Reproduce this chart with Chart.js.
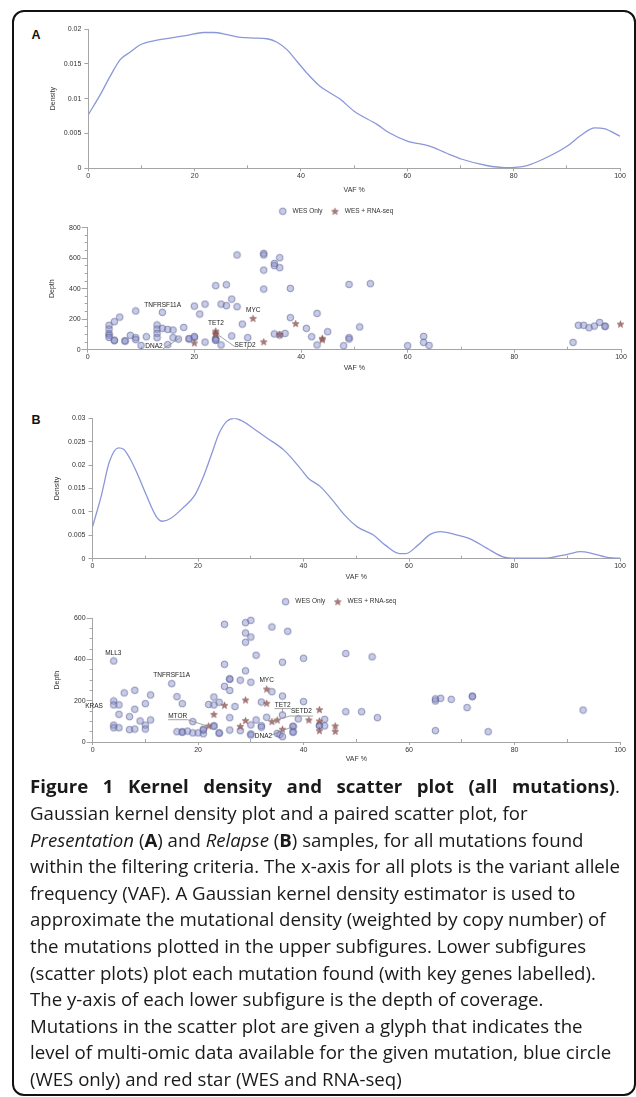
<!DOCTYPE html>
<html>
<head>
<meta charset="utf-8">
<script src="https://cdn.jsdelivr.net/npm/chart.js@4.4.0/dist/chart.umd.min.js"></script>
<style>
  html, body { margin: 0; padding: 0; background: #fff; }
  body { width: 636px; height: 1097px; position: relative; overflow: hidden; font-family: "Liberation Sans", Arial, sans-serif; }
  .frame { position: absolute; left: 12px; top: 10px; width: 624px; height: 1086px; box-sizing: border-box; border: 2px solid #111; border-radius: 12px; }
  canvas { position: absolute; left: 0; }
  .panel { position: absolute; left: 31.5px; font: bold 12.5px "Liberation Sans", Arial, sans-serif; line-height: 12.5px; color: #111; }
  #caption { position: absolute; left: 30.4px; top: 773.4px; font-family: "Open Sans", sans-serif; font-size: 18px; color: #1a1a1a; }
  #caption .ln { height: 26.6px; line-height: 26.6px; white-space: nowrap; transform-origin: 0 50%; }
</style>
</head>
<body>
<div class="frame"></div>
<div class="panel" style="top:28.6px">A</div>
<div class="panel" style="top:414.3px">B</div>
<canvas id="densA" width="636" height="180" style="top:20px"></canvas>
<canvas id="scatA" width="636" height="180" style="top:195px"></canvas>
<canvas id="densB" width="636" height="190" style="top:400px"></canvas>
<canvas id="scatB" width="636" height="180" style="top:585px"></canvas>

<div id="caption">
  <div class="ln"><span><b>Figure 1 Kernel density and scatter plot (all mutations)</b>.</span></div>
  <div class="ln"><span>Gaussian kernel density plot and a paired scatter plot, for</span></div>
  <div class="ln"><span><i>Presentation</i> (<b>A</b>) and <i>Relapse</i> (<b>B</b>) samples, for all mutations found</span></div>
  <div class="ln"><span>within the filtering criteria. The x-axis for all plots is the variant allele</span></div>
  <div class="ln"><span>frequency (VAF). A Gaussian kernel density estimator is used to</span></div>
  <div class="ln"><span>approximate the mutational density (weighted by copy number) of</span></div>
  <div class="ln"><span>the mutations plotted in the upper subfigures. Lower subfigures</span></div>
  <div class="ln"><span>(scatter plots) plot each mutation found (with key genes labelled).</span></div>
  <div class="ln"><span>The y-axis of each lower subfigure is the depth of coverage.</span></div>
  <div class="ln"><span>Mutations in the scatter plot are given a glyph that indicates the</span></div>
  <div class="ln"><span>level of multi-omic data available for the given mutation, blue circle</span></div>
  <div class="ln"><span>(WES only) and red star (WES and RNA-seq)</span></div>
</div>

<script>
// --- density curves, presentation (A) and relapse (B) ---
var densA_vaf = [0, 2.2, 4.1, 6, 7.9, 9.7, 12.3, 15.4, 18.6, 21.7, 23.6, 26.1, 28.6, 31.1, 33.6, 35.5, 37.4, 39.3, 41.2, 43.4, 45.5, 47.4, 50, 54.3, 56.6, 60, 64.2, 67.3, 70.3, 74.9, 78.5, 82.5, 85.5, 90.1, 92.4, 95.3, 97, 100];
var densA_val = [0.0077, 0.0105, 0.0132, 0.0156, 0.0167, 0.0177, 0.0183, 0.0187, 0.0191, 0.0195, 0.0195, 0.0192, 0.0188, 0.0187, 0.0186, 0.0181, 0.0170, 0.0153, 0.0136, 0.0119, 0.0108, 0.0099, 0.0082, 0.0063, 0.0051, 0.0039, 0.0032, 0.0022, 0.0013, 0.0004, 0.0001, 0.0004, 0.0013, 0.0032, 0.0046, 0.0058, 0.0057, 0.0046];

var densB_vaf = [0, 1.7, 3.2, 4.9, 5.9, 7.1, 8.6, 10.2, 12.1, 13.2, 14.8, 17.1, 19.4, 20.9, 22.5, 24, 25.5, 26.9, 28.6, 30.9, 33.2, 36.3, 39.4, 40.9, 43.2, 45.5, 47.8, 50.2, 53.2, 55.5, 58.2, 59.4, 61.7, 64, 65.9, 68.6, 71.7, 74.8, 77.8, 80.2, 85.5, 90.2, 92.5, 94.8, 97.9, 100];
var densB_val = [0.0068, 0.0136, 0.0207, 0.0237, 0.0234, 0.0214, 0.0179, 0.0136, 0.009, 0.008, 0.0086, 0.0108, 0.0136, 0.0172, 0.0221, 0.0268, 0.0294, 0.03, 0.0293, 0.0275, 0.0257, 0.0232, 0.0193, 0.0172, 0.0154, 0.0125, 0.0093, 0.0068, 0.0051, 0.0029, 0.0011, 0.0011, 0.0029, 0.0052, 0.0058, 0.0052, 0.0042, 0.0022, 0.0004, 0.0001, 0.0001, 0.001, 0.0015, 0.0011, 0.0002, 0.0001];

// --- scatter points [VAF %, depth] ---
var wesOnlyA = [
  [4,160],[4,135],[4,105],[4,95],[4,80],[5,184],[5,59],[5,63],[6,214],[7,59],[7,56],[8,94],
  [9,254],[9,79],[9,66],[10,28],[11,85],[13,162],[13,135],[13,107],[13,79],[14,245],[14,140],
  [15,133],[15,33],[16,129],[16,79],[17,70],[18,146],[19,70],[19,73],[20,286],[20,79],[20,87],
  [21,234],[22,299],[22,50],[24,420],[24,74],[24,61],[24,66],[25,299],[25,31],[26,426],[26,289],
  [27,332],[27,90],[28,621],[28,282],[29,168],[30,79],[33,632],[33,621],[33,522],[33,398],
  [35,566],[35,551],[35,103],[36,603],[36,538],[36,96],[37,107],[38,402],[38,210],[41,140],
  [42,85],[43,238],[43,31],[45,118],[48,26],[49,428],[49,79],[49,70],[51,149],[53,433],
  [60,26],[63,87],[63,48],[64,28],[91,48],[92,160],[93,160],[94,144],[95,155],[96,179],[97,155],[97,152]
];
var wesRnaA = [[20,44],[24,122],[24,110],[24,100],[31,205],[33,52],[36,100],[39,171],[44,75],[44,65],[99.9,168]];

var wesOnlyB = [
  [4,393],[4,199],[4,180],[5,180],[4,82],[4,69],[5,69],[5,134],[6,238],[7,123],[7,60],
  [8,251],[8,159],[8,63],[9,102],[10,186],[10,82],[10,63],[11,228],[11,107],[15,283],[16,220],
  [17,186],[19,99],[16,50],[17,50],[17,47],[18,53],[19,44],[20,44],[21,40],[21,62],[21,58],
  [23,79],[23,76],[22,182],[23,218],[23,180],[24,193],[25,571],[25,377],[25,270],[26,304],[26,307],
  [26,250],[26,118],[24,42],[24,45],[26,58],[27,172],[28,300],[28,55],[29,579],[29,529],[29,484],
  [29,345],[30,590],[30,509],[30,290],[30,83],[30,39],[30,34],[31,421],[31,107],[32,194],[32,79],
  [32,72],[33,120],[34,244],[34,558],[35,42],[35.5,36],[36,387],[36,223],[36,131],[36,26],[37,537],
  [38,74],[38,77],[38,50],[38,47],[39,112],[40,406],[40,196],[43,81],[43,78],[44,110],[44,78],
  [48,429],[53,413],[48,147],[51,147],[54,118],[65,199],[65,209],[66,212],[68,207],[72,223],[72,220],
  [71,167],[65,55],[75,50],[93,155]
];
var wesRnaB = [[22,78],[23,134],[25,178],[28,76],[29,204],[29,104],[33,257],[33,188],[34,99],[35,107],
  [36,62],[41,107],[43,157],[43,102],[43,55],[46,78],[46,52]];

// --- key gene labels (text centre in VAF/depth units) and leader lines ---
var genesA = ['TNFRSF11A', 'MYC', 'TET2', 'SETD2', 'DNA2'];
var genesA_vaf = [14.06, 31.05, 24.06, 29.5, 12.43];
var genesA_depth = [293, 260, 173, 31, 21];
var leadersA = [
  [[14.1, 5], [17.3, 77]],
  [[24.5, 96], [27.6, 20]]
];

var genesB = ['MLL3', 'KRAS', 'TNFRSF11A', 'MTOR', 'MYC', 'TET2', 'SETD2', 'DNA2'];
var genesB_vaf = [3.92, 0.27, 15.0, 16.13, 33.0, 36.04, 39.6, 32.4];
var genesB_depth = [431, 176, 322, 125, 298, 180, 147, 26];
var leadersB = [
  [[14.3, 108], [18.0, 108], [21.9, 76]],
  [[34.5, 162], [37.6, 162]],
  [[36.0, 162], [36.0, 141]],
  [[37.4, 126], [41.8, 126]],
  [[37.4, 126], [33.95, 99]],
  [[33.95, 34], [37.9, 74]]
];

var AXIS = '#a5a5a5';
var TXT = '#333';
var LINE = '#8b97d8';

Chart.defaults.font.family = '"Liberation Sans", Arial, sans-serif';
Chart.defaults.font.size = 7;
Chart.defaults.color = TXT;

function makeDot() {
  var c = document.createElement('canvas');
  c.width = 9; c.height = 9;
  var g = c.getContext('2d');
  g.beginPath();
  g.arc(4.5, 4.5, 3.3, 0, Math.PI * 2);
  g.fillStyle = 'rgba(132,140,205,0.45)';
  g.fill();
  g.lineWidth = 0.8;
  g.strokeStyle = 'rgba(88,94,140,0.8)';
  g.stroke();
  return c;
}

function makeStar() {
  var c = document.createElement('canvas');
  c.width = 9; c.height = 9;
  var g = c.getContext('2d');
  g.beginPath();
  for (var k = 0; k < 10; k++) {
    var r = k % 2 ? 1.5 : 3.6;
    var a = -Math.PI / 2 + k * Math.PI / 5;
    var px = 4.5 + r * Math.cos(a), py = 4.8 + r * Math.sin(a);
    if (k) g.lineTo(px, py); else g.moveTo(px, py);
  }
  g.closePath();
  g.fillStyle = 'rgba(160,100,100,0.85)';
  g.fill();
  g.lineWidth = 0.5;
  g.strokeStyle = 'rgba(115,65,65,0.9)';
  g.stroke();
  return c;
}

var dotImg = makeDot();
var starImg = makeStar();

function pts(list) {
  return list.map(function(p) { return {x: p[0], y: p[1]}; });
}

function xMajor(h, titlePad) {
  return {
    type: 'linear', position: 'bottom', min: 0, max: 100, weight: 0,
    border: {color: AXIS, width: 1},
    grid: {drawOnChartArea: false, drawTicks: true, tickLength: 3, color: AXIS},
    ticks: {stepSize: 20, autoSkip: false, maxRotation: 0, padding: 0.5, color: TXT, font: {size: 7}},
    title: {display: true, text: 'VAF %', color: TXT, font: {size: 7}, padding: {top: 0, bottom: titlePad}},
    afterFit: function(s) { s.height = h; }
  };
}

function xMinor() {
  return {
    type: 'linear', position: 'bottom', min: 0, max: 100, weight: -1,
    border: {display: false},
    grid: {
      drawOnChartArea: false, drawTicks: true, tickLength: -3,
      tickColor: function(c) { return (c.tick && c.tick.value % 20 === 0) ? 'rgba(0,0,0,0)' : AXIS; }
    },
    ticks: {display: false, stepSize: 10, autoSkip: false},
    afterFit: function(s) { s.height = 0; }
  };
}

function yMajor(max, step, w, text, titlePad, tickLen, pad, fmt) {
  var ticks = {stepSize: step, autoSkip: false, padding: pad, color: TXT, font: {size: 7}};
  if (fmt) ticks.callback = fmt;
  return {
    type: 'linear', position: 'left', min: 0, max: max, weight: 0,
    border: {color: AXIS, width: 1},
    grid: {drawOnChartArea: false, drawTicks: true, tickLength: tickLen, color: AXIS},
    ticks: ticks,
    title: {display: true, text: text, color: TXT, font: {size: 7}, padding: {top: titlePad, bottom: 0}},
    afterFit: function(s) { s.width = w; }
  };
}

function yMinor(max) {
  return {
    type: 'linear', position: 'left', min: 0, max: max, weight: -1,
    border: {display: false},
    grid: {drawOnChartArea: false, drawTicks: true, tickLength: 3, color: AXIS},
    ticks: {display: false, stepSize: 50, autoSkip: false},
    afterFit: function(s) { s.width = 0; }
  };
}

// empty top axis, only used to leave room under the legend
function spacer(h) {
  return {
    type: 'linear', position: 'top', display: true,
    grid: {display: false}, border: {display: false},
    ticks: {display: false}, title: {display: false},
    afterFit: function(s) { s.height = h; }
  };
}

function labelPlugin(names, vaf, depth, leaders) {
  return {
    id: 'geneLabels',
    afterDatasetsDraw: function(chart) {
      var ctx = chart.ctx, xs = chart.scales.x, ys = chart.scales.y;
      ctx.save();
      ctx.strokeStyle = '#8c8c8c';
      ctx.lineWidth = 0.8;
      leaders.forEach(function(l) {
        ctx.beginPath();
        l.forEach(function(p, k) {
          var px = xs.getPixelForValue(p[0]), py = ys.getPixelForValue(p[1]);
          if (k) ctx.lineTo(px, py); else ctx.moveTo(px, py);
        });
        ctx.stroke();
      });
      ctx.font = '6.5px "Liberation Sans", Arial, sans-serif';
      ctx.fillStyle = '#222';
      ctx.textAlign = 'center';
      ctx.textBaseline = 'middle';
      names.forEach(function(n, i) {
        ctx.fillText(n, xs.getPixelForValue(vaf[i]), ys.getPixelForValue(depth[i]));
      });
      ctx.restore();
    }
  };
}

function densityChart(id, vaf, val, o) {
  return new Chart(document.getElementById(id), {
    type: 'line',
    data: {
      datasets: [{
        data: vaf.map(function(v, i) { return {x: v, y: val[i]}; }),
        borderColor: LINE, borderWidth: 1.3, pointRadius: 0,
        cubicInterpolationMode: 'monotone', fill: false,
        xAxisID: 'x', yAxisID: 'y'
      }]
    },
    options: {
      responsive: false, animation: false, devicePixelRatio: 1,
      layout: {padding: {left: 0, right: o.right, top: o.top, bottom: 0}},
      plugins: {legend: {display: false}, tooltip: {enabled: false}},
      scales: {
        x: xMajor(o.xh, o.xtp),
        xm: xMinor(),
        y: yMajor(o.ymax, 0.005, o.yw, 'Density', o.ytp, 4, 3, function(v) { return Math.round(v * 1000) / 1000; })
      }
    }
  });
}

function scatterChart(id, wes, rna, plugin, o) {
  return new Chart(document.getElementById(id), {
    type: 'scatter',
    data: {
      datasets: [
        {label: 'WES Only', data: pts(wes), pointStyle: dotImg, pointRadius: 3.5, clip: false, xAxisID: 'x', yAxisID: 'y'},
        {label: 'WES + RNA-seq', data: pts(rna), pointStyle: starImg, pointRadius: 3.5, clip: false, order: -1, xAxisID: 'x', yAxisID: 'y'}
      ]
    },
    options: {
      responsive: false, animation: false, devicePixelRatio: 1,
      layout: {padding: {left: o.left, right: o.right, top: o.top, bottom: 0}},
      plugins: {
        tooltip: {enabled: false},
        legend: {
          display: true, position: 'top',
          labels: {
            usePointStyle: true, pointStyleWidth: 13, padding: 6, color: TXT, font: {size: 6.5},
            sort: function(a, b) { return a.datasetIndex - b.datasetIndex; }
          }
        }
      },
      scales: {
        x: xMajor(o.xh, o.xtp),
        xm: xMinor(),
        sp: spacer(o.gap),
        y: yMajor(o.ymax, 200, o.yw, 'Depth', o.ytp, 6, 1),
        ym: yMinor(o.ymax)
      }
    },
    plugins: [plugin]
  });
}

densityChart('densA', densA_vaf, densA_val, {right: 16, top: 9, xh: 31.7, xtp: 5.8, ymax: 0.02, yw: 88.3, ytp: 49.1});
scatterChart('scatA', wesOnlyA, wesRnaA, labelPlugin(genesA, genesA_vaf, genesA_depth, leadersA),
  {left: 48.6, right: 15, top: 7.05, gap: 3.15, xh: 25.3, xtp: 2.5, ymax: 800, yw: 39.1, ytp: -1.1});
densityChart('densB', densB_vaf, densB_val, {right: 16, top: 18.3, xh: 31.3, xtp: 8.8, ymax: 0.03, yw: 92.5, ytp: 52.6});
scatterChart('scatB', wesOnlyB, wesRnaB, labelPlugin(genesB, genesB_vaf, genesB_depth, leadersB),
  {left: 55.2, right: 16, top: 7.45, gap: 3.35, xh: 23, xtp: 1.5, ymax: 600, yw: 37.4, ytp: -2.7});

// caption: squeeze lines to the width of the printed column, stretch the title line
(function() {
  var lines = document.querySelectorAll('#caption .ln');
  var spans = [];
  lines.forEach(function(l) { spans.push(l.firstElementChild); });
  var refW = spans[3].getBoundingClientRect().width;
  var titleW = spans[0].getBoundingClientRect().width;
  var s = 590 / refW;
  spans[0].style.wordSpacing = ((590 / s - titleW) / 8) + 'px';
  lines.forEach(function(l) { l.style.transform = 'scaleX(' + s + ')'; });
})();
</script>
</body>
</html>
